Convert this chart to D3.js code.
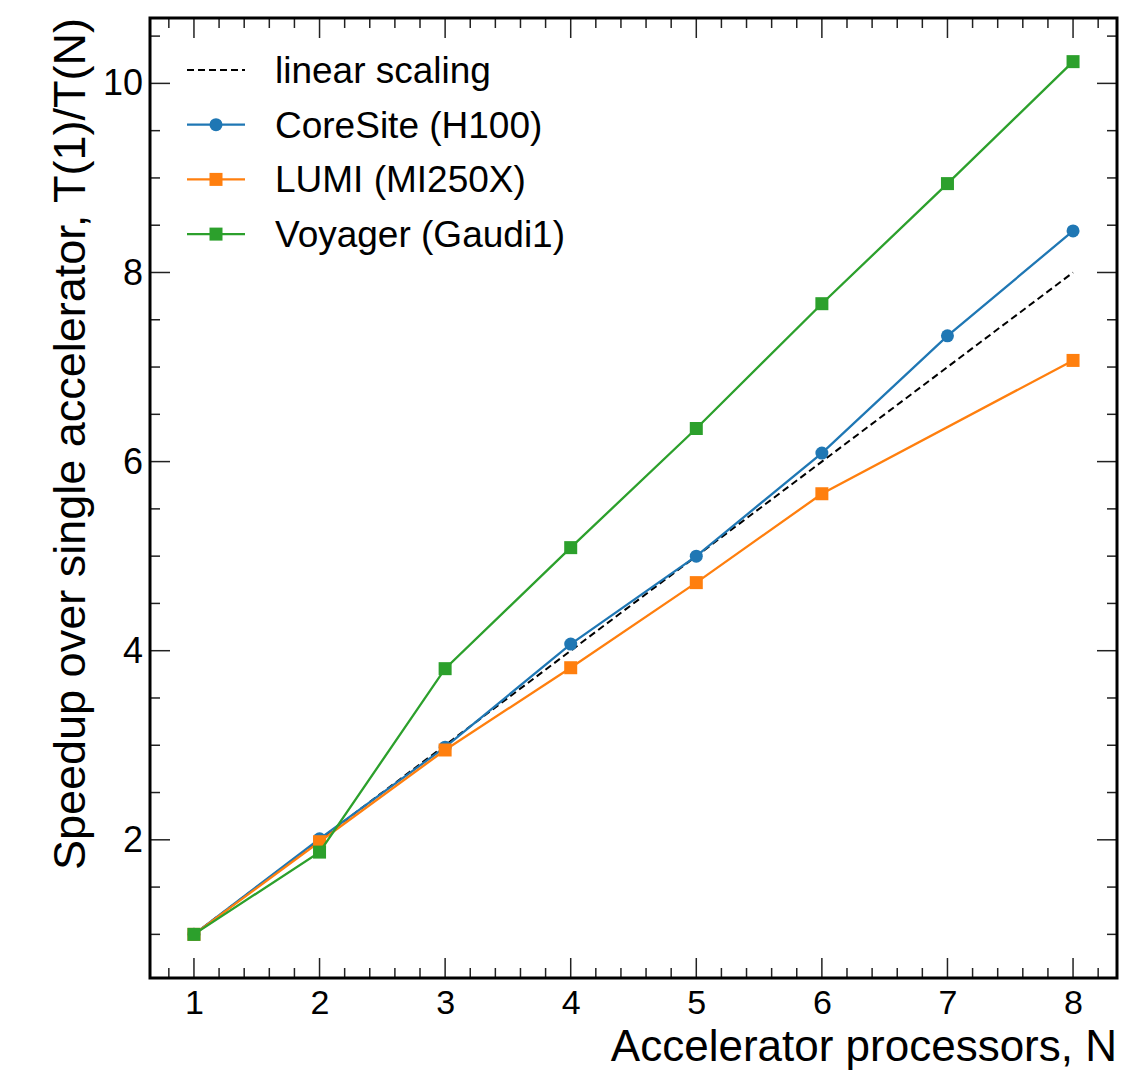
<!DOCTYPE html>
<html>
<head>
<meta charset="utf-8">
<script src="https://cdn.jsdelivr.net/npm/d3@7"></script>
<style>
  html, body { margin: 0; padding: 0; background: #fff; }
  svg { display: block; }
  text { font-family: "Liberation Sans", Arial, Helvetica, sans-serif; fill: #000; }
</style>
</head>
<body>
<svg id="chart" width="1143" height="1071"></svg>
<script>
// Number of accelerators
const processors = [1, 2, 3, 4, 5, 6, 7, 8];

// Ideal scaling reference
const linearScaling = [1, 2, 3, 4, 5, 6, 7, 8];

// Measured speedups T(1)/T(N)
const coreSiteN = [1, 2, 3, 4, 5, 6, 7, 8];
const coreSiteSpeedup = [1.00, 2.01, 2.98, 4.07, 5.00, 6.09, 7.33, 8.44];

const lumiN = [1, 2, 3, 4, 5, 6, 8];
const lumiSpeedup = [1.00, 1.98, 2.95, 3.82, 4.72, 5.66, 7.07];

const voyagerN = [1, 2, 3, 4, 5, 6, 7, 8];
const voyagerSpeedup = [1.00, 1.87, 3.81, 5.09, 6.35, 7.67, 8.94, 10.23];

const xTicks = [1, 2, 3, 4, 5, 6, 7, 8];
const yTicks = [2, 4, 6, 8, 10];

const series = [
  { name: "CoreSite (H100)", color: "#1f77b4", marker: "circle", xs: coreSiteN, ys: coreSiteSpeedup },
  { name: "LUMI (MI250X)", color: "#ff7f0e", marker: "square", xs: lumiN, ys: lumiSpeedup },
  { name: "Voyager (Gaudi1)", color: "#2ca02c", marker: "square", xs: voyagerN, ys: voyagerSpeedup }
];

const svg = d3.select("#chart");
const M = { left: 150, right: 1117, top: 18, bottom: 978 };

const x = d3.scaleLinear().domain([0.65, 8.35]).range([M.left, M.right]);
const y = d3.scaleLinear().domain([0.5385, 10.6915]).range([M.bottom, M.top]);

const tickColor = "#222";

// Inward ticks on all four sides, major and minor
function drawTicks() {
  const g = svg.append("g");
  const xMinor = d3.range(0.8, 8.35, 0.2).filter(v => Math.abs(v - Math.round(v)) > 1e-6);
  const yMinor = d3.range(1.0, 10.7, 0.5).filter(v => Math.abs(v / 2 - Math.round(v / 2)) > 1e-6);

  const addX = (vals, len) => {
    vals.forEach(v => {
      g.append("line").attr("x1", x(v)).attr("x2", x(v)).attr("y1", M.bottom).attr("y2", M.bottom - len)
        .attr("stroke", tickColor).attr("stroke-width", 1.5);
      g.append("line").attr("x1", x(v)).attr("x2", x(v)).attr("y1", M.top).attr("y2", M.top + len)
        .attr("stroke", tickColor).attr("stroke-width", 1.5);
    });
  };
  const addY = (vals, len) => {
    vals.forEach(v => {
      g.append("line").attr("x1", M.left).attr("x2", M.left + len).attr("y1", y(v)).attr("y2", y(v))
        .attr("stroke", tickColor).attr("stroke-width", 1.5);
      g.append("line").attr("x1", M.right).attr("x2", M.right - len).attr("y1", y(v)).attr("y2", y(v))
        .attr("stroke", tickColor).attr("stroke-width", 1.5);
    });
  };
  addX(xTicks, 20);
  addX(xMinor, 10);
  addY(yTicks, 20);
  addY(yMinor, 10);

  // tick labels through d3 axes, with their own tick marks hidden
  const xAxis = svg.append("g").attr("transform", `translate(0,${M.bottom})`)
    .call(d3.axisBottom(x).tickValues(xTicks).tickSize(0).tickPadding(12).tickFormat(d3.format("d")));
  xAxis.select(".domain").remove();
  xAxis.attr("font-family", null).attr("font-size", null);
  xAxis.selectAll("text").style("font-size", "34px");

  const yAxis = svg.append("g").attr("transform", `translate(${M.left},0)`)
    .call(d3.axisLeft(y).tickValues(yTicks).tickSize(0).tickPadding(7).tickFormat(d3.format("d")));
  yAxis.select(".domain").remove();
  yAxis.attr("font-family", null).attr("font-size", null);
  yAxis.selectAll("text").style("font-size", "36px");
}
drawTicks();

const plot = svg.append("g");

// linear reference
const lineGen = d3.line().x(d => x(d[0])).y(d => y(d[1]));
plot.append("path")
  .datum(processors.map((n, i) => [n, linearScaling[i]]))
  .attr("d", lineGen)
  .attr("fill", "none").attr("stroke", "#000").attr("stroke-width", 2)
  .attr("stroke-dasharray", "7,4");

function drawMarker(g, cx, cy, s) {
  if (s.marker === "circle") {
    g.append("circle").attr("cx", cx).attr("cy", cy).attr("r", 6.5).attr("fill", s.color);
  } else {
    const h = 6.5;
    g.append("rect").attr("x", cx - h).attr("y", cy - h).attr("width", 2 * h).attr("height", 2 * h).attr("fill", s.color);
  }
}

series.forEach(s => {
  const pts = s.xs.map((n, i) => [n, s.ys[i]]);
  const g = plot.append("g");
  g.append("path").datum(pts).attr("d", lineGen)
    .attr("fill", "none").attr("stroke", s.color).attr("stroke-width", 2.3);
  pts.forEach(p => drawMarker(g, x(p[0]), y(p[1]), s));
});

// frame
svg.append("rect").attr("x", M.left).attr("y", M.top).attr("width", M.right - M.left).attr("height", M.bottom - M.top)
  .attr("fill", "none").attr("stroke", "#000").attr("stroke-width", 3);

// legend
const legend = svg.append("g");
const legendItems = [{ name: "linear scaling", color: "#000", dashed: true }].concat(series);
legendItems.forEach((it, i) => {
  const cy = 70 + i * 54.7;
  legend.append("line").attr("x1", 187).attr("x2", 245).attr("y1", cy).attr("y2", cy)
    .attr("stroke", it.color).attr("stroke-width", it.dashed ? 2 : 2.3)
    .attr("stroke-dasharray", it.dashed ? "7,4" : null);
  if (!it.dashed) drawMarker(legend, 216, cy, it);
  legend.append("text").attr("x", 275).attr("y", cy + 13)
    .style("font-size", "37px").text(it.name);
});

// axis titles
svg.append("text").attr("x", M.right).attr("y", 1061).attr("text-anchor", "end")
  .style("font-size", "44px").text("Accelerator processors, N");

svg.append("text").attr("transform", `translate(85,${M.top}) rotate(-90)`)
  .attr("text-anchor", "end")
  .style("font-size", "45px").text("Speedup over single accelerator, T(1)/T(N)");
</script>
</body>
</html>
